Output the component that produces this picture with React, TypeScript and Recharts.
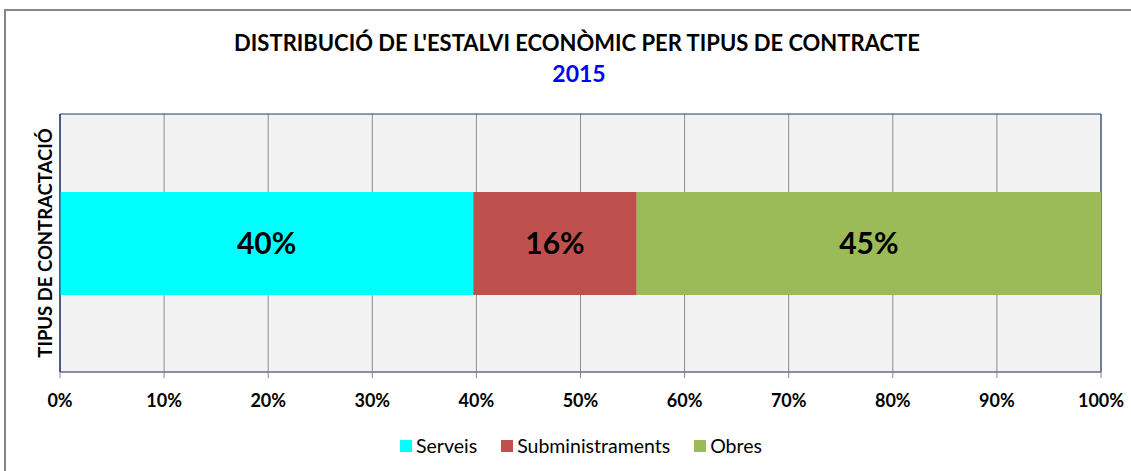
import { BarChart, Bar, XAxis, YAxis, CartesianGrid, ReferenceArea, LabelList, Legend } from "recharts";

const categories = ["2015"];
const serveis = [39.7];
const subministraments = [15.7];
const obres = [44.6];
const xTicks = [0, 10, 20, 30, 40, 50, 60, 70, 80, 90, 100];

const series = [
  { key: "serveis", name: "Serveis", color: "#00ffff" },
  { key: "subministraments", name: "Subministraments", color: "#c0504d" },
  { key: "obres", name: "Obres", color: "#9bbb59" },
];

const data = categories.map((c, i) => ({
  name: c,
  serveis: serveis[i],
  subministraments: subministraments[i],
  obres: obres[i],
}));

const font = "Lato, 'Noto Sans', sans-serif";

function LegendContent() {
  return (
    <div style={{ display: "flex", justifyContent: "center", fontFamily: font, fontSize: 19.5, color: "#000" }}>
      {series.map((s) => (
        <div key={s.key} style={{ display: "flex", alignItems: "center", margin: "0 12px" }}>
          <span style={{ width: 12, height: 12, background: s.color, display: "inline-block", marginRight: 4 }} />
          <span>{s.name}</span>
        </div>
      ))}
    </div>
  );
}

export default function App() {
  return (
    <div style={{ position: "absolute", left: 0, top: 0, width: 1131, height: 471, overflow: "hidden", background: "#fff" }}>
      <div style={{ position: "absolute", left: 4, top: 9, width: 1200, height: 600, borderLeft: "2px solid #868686", borderTop: "2px solid #868686" }} />
      <div style={{ position: "absolute", left: 0, width: 1154, top: 29, textAlign: "center", fontFamily: font, fontWeight: 700, fontSize: 22, color: "#000", lineHeight: "28px" }}>
        DISTRIBUCIÓ DE L'ESTALVI ECONÒMIC PER TIPUS DE CONTRACTE
      </div>
      <div style={{ position: "absolute", left: 0, width: 1158, top: 59, textAlign: "center", fontFamily: font, fontWeight: 700, fontSize: 23, color: "#0000ff", lineHeight: "28px" }}>
        2015
      </div>
      <BarChart
        width={1131}
        height={471}
        data={data}
        layout="vertical"
        margin={{ top: 114, right: 30, left: 30, bottom: 69 }}
        style={{ position: "absolute", left: 0, top: 0 }}
      >
        <CartesianGrid horizontal={false} vertical={true} stroke="#8c8c8c" fill="#f2f2f2" />
        <ReferenceArea x1={0} x2={100} fill="none" stroke="#1f3a73" strokeWidth={1} />
        <XAxis
          type="number"
          domain={[0, 100]}
          ticks={xTicks}
          tickFormatter={(v) => `${v}%`}
          height={30}
          stroke="#868686"
          tickSize={6}
          tickMargin={16}
          tick={{ fill: "#000", fontFamily: font, fontWeight: 700, fontSize: 18 }}
        />
        <YAxis
          type="category"
          dataKey="name"
          width={30}
          tick={false}
          tickLine={false}
          axisLine={{ stroke: "#1f3a73" }}
          label={{
            value: "TIPUS DE CONTRACTACIÓ",
            angle: -90,
            position: "center",
            fill: "#000",
            fontFamily: font,
            fontWeight: 700,
            fontSize: 18.5,
          }}
        />
        <Legend verticalAlign="middle" align="center" wrapperStyle={{ top: 434, left: 0, width: 1162 }} content={LegendContent} />
        {series.map((s) => (
          <Bar key={s.key} dataKey={s.key} name={s.name} stackId="a" fill={s.color} barSize={103} isAnimationActive={false}>
            <LabelList
              dataKey={s.key}
              position="center"
              formatter={(v: number) => `${Math.round(v)}%`}
              fill="#000"
              style={{ fontFamily: font, fontWeight: 700, fontSize: 30 }}
            />
          </Bar>
        ))}
      </BarChart>
    </div>
  );
}
